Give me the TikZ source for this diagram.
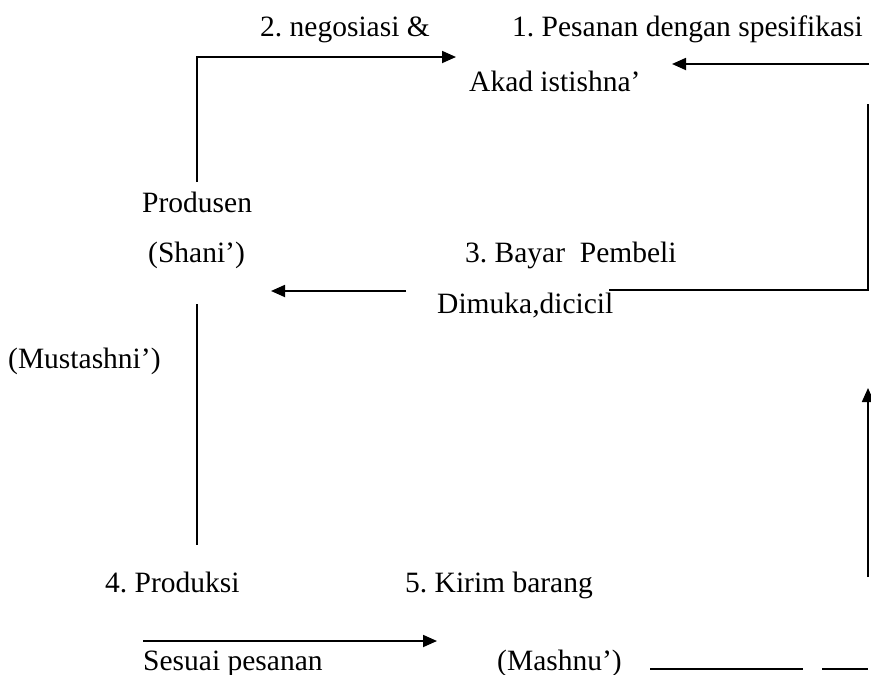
\documentclass[tikz,border=0pt]{standalone}
\usepackage{fontspec}
\setmainfont{Liberation Serif}
\usetikzlibrary{arrows.meta}
\frenchspacing
\begin{document}
\begin{tikzpicture}[x=1pt,y=-1pt,
  lbl/.style={inner sep=0pt,anchor=base west,font=\fontsize{29.5}{32}\selectfont},
  ln/.style={line width=1.8pt},
  arr/.style={ln,-{Triangle[length=14pt,width=12pt]}}]
\useasboundingbox (0,0) rectangle (871,675);
% texts
\node[lbl] (neg) at (260,36) {2. negosiasi \&};
\node[lbl] (pes) at (512,36) {1. Pesanan dengan spesifikasi};
\node[lbl] (akad) at (469,91) {Akad istishna’};
\node[lbl] (prod) at (142,212) {Produsen};
\node[lbl] (shani) at (148,262) {(Shani’)};
\node[lbl] (bayar) at (465,262) {3. Bayar\ \ Pembeli};
\node[lbl] (dimuka) at (437,313) {Dimuka,dicicil};
\node[lbl] (must) at (8,368) {(Mustashni’)};
\node[lbl] (produksi) at (105,592) {4. Produksi};
\node[lbl] (kirim) at (405,592) {5. Kirim barang};
\node[lbl] (sesuai) at (143,670) {Sesuai pesanan};
\node[lbl] (mashnu) at (497,670) {(Mashnu’)};
% coordinates
\coordinate (a1) at (197,182);
\coordinate (a2) at (197,57);
\coordinate (a3) at (456,57);
\coordinate (b1) at (869,64);
\coordinate (b2) at (672,64);
\coordinate (c1) at (868,104);
\coordinate (c2) at (868,290);
\coordinate (c3) at (609,290);
\coordinate (d1) at (406,291);
\coordinate (d2) at (271,291);
\coordinate (e1) at (197,304);
\coordinate (e2) at (197,545);
\coordinate (f1) at (868,577);
\coordinate (f2) at (868,388);
\coordinate (g1) at (143,641);
\coordinate (g2) at (437,641);
\coordinate (h1) at (650,669);
\coordinate (h2) at (803,669);
\coordinate (h3) at (822,669);
\coordinate (h4) at (868,669);
% connectors
\draw[arr] (a1) -- (a2) -- (a3);
\draw[arr] (b1) -- (b2);
\draw[ln] (c1) -- (c2) -- (c3);
\draw[arr] (d1) -- (d2);
\draw[ln] (e1) -- (e2);
\draw[arr] (f1) -- (f2);
\draw[arr] (g1) -- (g2);
\draw[ln] (h1) -- (h2);
\draw[ln] (h3) -- (h4);
\end{tikzpicture}
\end{document}
